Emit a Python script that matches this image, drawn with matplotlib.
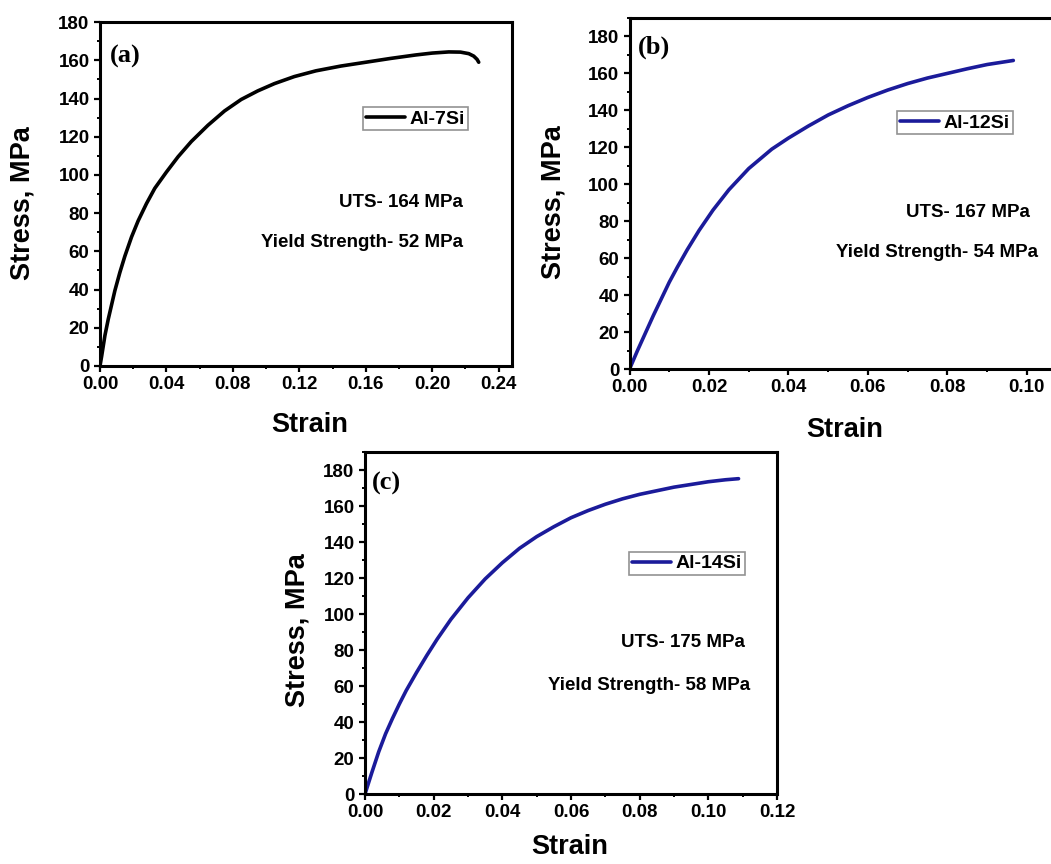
import matplotlib
matplotlib.use("Agg")
import matplotlib.pyplot as plt
from matplotlib.ticker import MultipleLocator

# Stress-strain curves
strain_a = [0, 0.001, 0.002, 0.003, 0.005, 0.007, 0.009, 0.012, 0.015, 0.019,
            0.023, 0.028, 0.033, 0.040, 0.047, 0.055, 0.065, 0.075, 0.085,
            0.095, 0.105, 0.117, 0.13, 0.145, 0.16, 0.175, 0.19, 0.20, 0.21,
            0.217, 0.222, 0.225, 0.227, 0.228]
stress_a = [0, 5, 10.5, 16, 24.5, 32, 39.5, 49, 57.5, 67.5,
            76, 85, 93, 101.5, 109.5, 117.5, 126, 133.5, 139.5,
            144, 147.8, 151.5, 154.5, 157, 159, 161, 162.8, 163.8, 164.4,
            164.3, 163.5, 162.2, 160.5, 159]

strain_b = [0, 0.002, 0.004, 0.006, 0.008, 0.010, 0.012, 0.0145, 0.0175, 0.021,
            0.025, 0.03, 0.0358, 0.04, 0.045, 0.05, 0.055, 0.06, 0.065, 0.07,
            0.075, 0.08, 0.085, 0.09, 0.0966]
stress_b = [0, 10, 19.5, 29, 38, 47, 55, 64.5, 75, 86,
            97, 108.5, 119, 125, 131.5, 137.5, 142.5, 147, 151, 154.5,
            157.5, 160, 162.5, 164.8, 167]

strain_c = [0, 0.002, 0.004, 0.006, 0.008, 0.010, 0.012, 0.015, 0.018, 0.021,
            0.025, 0.03, 0.035, 0.04, 0.045, 0.05, 0.055, 0.06, 0.065, 0.07,
            0.075, 0.08, 0.085, 0.09, 0.095, 0.10, 0.105, 0.1088]
stress_c = [0, 12, 23.5, 33.5, 42, 50, 57.5, 67.5, 77, 86,
            97, 109, 119.5, 128.5, 136.5, 143, 148.5, 153.5, 157.5, 161,
            164, 166.5, 168.5, 170.5, 172, 173.5, 174.6, 175.2]

names = ["Al-7Si", "Al-12Si", "Al-14Si"]
uts = [164, 167, 175]
yield_strength = [52, 54, 58]
panel_tags = ["(a)", "(b)", "(c)"]

plt.rcParams["font.family"] = ["Liberation Sans", "DejaVu Sans"]
plt.rcParams["font.weight"] = "bold"

fig = plt.figure(figsize=(10.51, 8.64), dpi=100)

# axes rectangles (figure fraction) and per-panel settings
panels = [
    dict(rect=[0.0951, 0.5764, 0.392, 0.398], x=strain_a, y=stress_a,
         color="black", xlim=(0, 0.248), ylim=(0, 180), xmaj=0.04, xmin=0.02,
         leg=(0.893, 0.753), uts=(0.881, 0.474), ys=(0.881, 0.358),
         tag=(0.024, 0.90), ylab=(-0.187, 0.474), xlab=(0.51, -0.171)),
    dict(rect=[0.599, 0.5729, 0.4158, 0.4063], x=strain_b, y=stress_b,
         color="#1b1b9a", xlim=(0, 0.11), ylim=(0, 190), xmaj=0.02, xmin=0.01,
         leg=(0.877, 0.735), uts=(0.916, 0.447), ys=(0.935, 0.333),
         tag=(0.02, 0.917), ylab=(-0.175, 0.476), xlab=(0.493, -0.174)),
    dict(rect=[0.3473, 0.081, 0.392, 0.3958], x=strain_c, y=stress_c,
         color="#1b1b9a", xlim=(0, 0.12), ylim=(0, 190), xmaj=0.02, xmin=0.01,
         leg=(0.922, 0.708), uts=(0.922, 0.444), ys=(0.934, 0.316),
         tag=(0.017, 0.909), ylab=(-0.165, 0.48), xlab=(0.4976, -0.155)),
]

for i, p in enumerate(panels):
    ax = fig.add_axes(p["rect"])
    ax.plot(p["x"], p["y"], color=p["color"], lw=2.6, label=names[i],
            solid_capstyle="round", solid_joinstyle="round")
    ax.set_xlim(*p["xlim"])
    ax.set_ylim(*p["ylim"])

    ax.xaxis.set_major_locator(MultipleLocator(p["xmaj"]))
    ax.xaxis.set_minor_locator(MultipleLocator(p["xmin"]))
    ax.yaxis.set_major_locator(MultipleLocator(20))
    ax.yaxis.set_minor_locator(MultipleLocator(10))
    ax.xaxis.set_major_formatter(plt.FormatStrFormatter("%.2f"))

    for s in ax.spines.values():
        s.set_linewidth(2.2)
    ax.tick_params(which="major", direction="out", length=4.5, width=1.6,
                   labelsize=13.5, pad=3)
    ax.tick_params(which="minor", direction="out", length=2.5, width=1.4)
    ax.tick_params(top=False, right=False, which="both")
    for lab in ax.get_xticklabels() + ax.get_yticklabels():
        lab.set_fontweight("bold")

    ax.set_ylabel("Stress, MPa", fontsize=19.5, fontweight="bold", va="center")
    ax.yaxis.set_label_coords(*p["ylab"])
    ax.set_xlabel("Strain", fontsize=19.5, fontweight="bold", va="center")
    ax.xaxis.set_label_coords(*p["xlab"])

    leg = ax.legend(loc="upper right", bbox_to_anchor=p["leg"], fontsize=14,
                    frameon=True, fancybox=False, handlelength=2.0,
                    handletextpad=0.25, borderpad=0.15, borderaxespad=0)
    leg.get_frame().set_edgecolor("#777777")
    leg.get_frame().set_linewidth(1.2)
    for t in leg.get_texts():
        t.set_fontweight("bold")

    ax.text(*p["uts"], f"UTS- {uts[i]} MPa", transform=ax.transAxes,
            ha="right", va="center", fontsize=13.5, fontweight="bold")
    ax.text(*p["ys"], f"Yield Strength- {yield_strength[i]} MPa",
            transform=ax.transAxes, ha="right", va="center", fontsize=13.5,
            fontweight="bold")
    ax.text(*p["tag"], panel_tags[i], transform=ax.transAxes, ha="left",
            va="center", fontsize=19, fontweight="bold",
            family="Liberation Serif")

fig.savefig("out.png", dpi=100)
